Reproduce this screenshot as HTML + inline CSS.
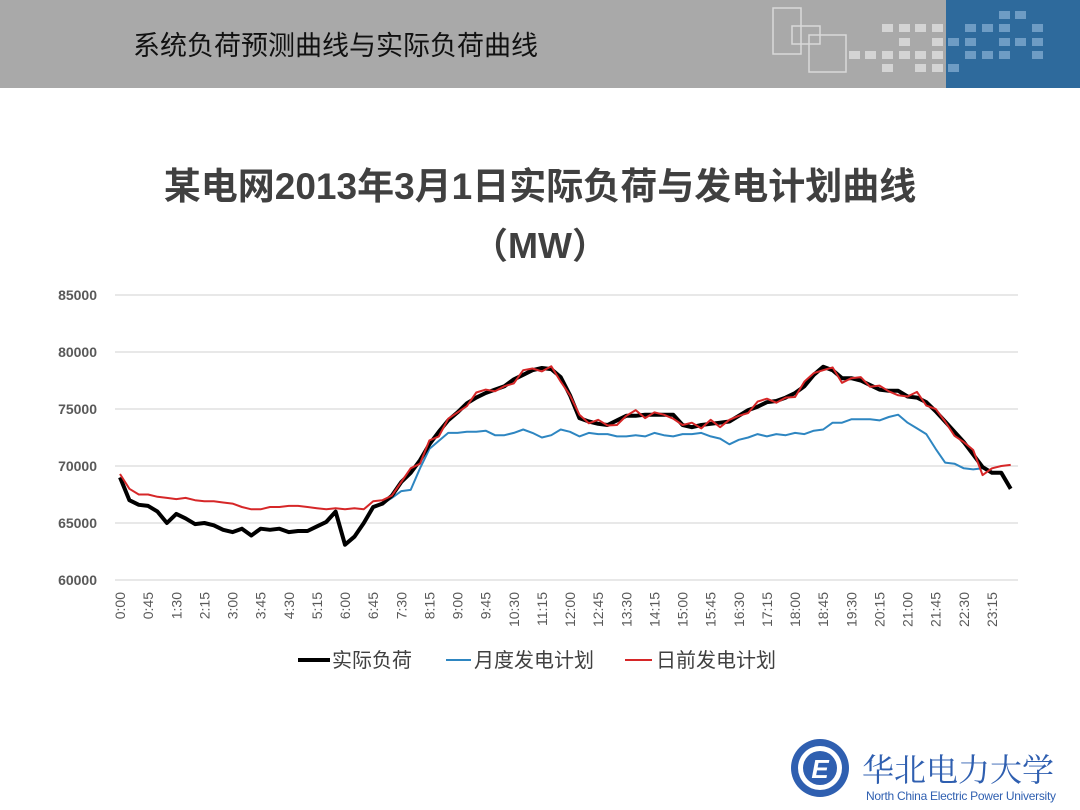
<!DOCTYPE html>
<html><head><meta charset="utf-8"><style>
body{margin:0;width:1080px;height:810px;background:#fff;overflow:hidden;font-family:"Liberation Sans","Noto Sans CJK SC",sans-serif;}
</style></head><body>
<svg id="s" width="1080" height="810" xmlns="http://www.w3.org/2000/svg" style="position:absolute;left:0;top:0">
<rect x="0" y="0" width="1080" height="88" fill="#a9a9a9"/>
<rect x="946" y="0" width="134" height="88" fill="#2e6a9c"/>
<g fill="none" stroke="#e6e6e6" stroke-width="1.5" opacity="0.8">
<rect x="773" y="8" width="28" height="46"/><rect x="792" y="26" width="28" height="18"/><rect x="809" y="35" width="37" height="37"/></g>
<g fill="#d4d4d4">
<rect x="882" y="24" width="11" height="8"/><rect x="899" y="24" width="11" height="8"/><rect x="915" y="24" width="11" height="8"/><rect x="932" y="24" width="11" height="8"/>
<rect x="899" y="38" width="11" height="8"/><rect x="932" y="38" width="11" height="8"/>
<rect x="849" y="51" width="11" height="8"/><rect x="865" y="51" width="11" height="8"/><rect x="882" y="51" width="11" height="8"/><rect x="899" y="51" width="11" height="8"/><rect x="915" y="51" width="11" height="8"/><rect x="932" y="51" width="11" height="8"/>
<rect x="882" y="64" width="11" height="8"/><rect x="915" y="64" width="11" height="8"/><rect x="932" y="64" width="11" height="8"/></g>
<g fill="#6e9cc4">
<rect x="999" y="11" width="11" height="8"/><rect x="1015" y="11" width="11" height="8"/>
<rect x="965" y="24" width="11" height="8"/><rect x="982" y="24" width="11" height="8"/><rect x="999" y="24" width="11" height="8"/><rect x="1032" y="24" width="11" height="8"/>
<rect x="948" y="38" width="11" height="8"/><rect x="965" y="38" width="11" height="8"/><rect x="999" y="38" width="11" height="8"/><rect x="1015" y="38" width="11" height="8"/><rect x="1032" y="38" width="11" height="8"/>
<rect x="965" y="51" width="11" height="8"/><rect x="982" y="51" width="11" height="8"/><rect x="999" y="51" width="11" height="8"/><rect x="1032" y="51" width="11" height="8"/>
<rect x="948" y="64" width="11" height="8"/></g>
<text x="133" y="55" font-size="27" fill="#111">系统负荷预测曲线与实际负荷曲线</text>
<text x="540" y="199" font-size="37" font-weight="bold" fill="#404040" text-anchor="middle">某电网2013年3月1日实际负荷与发电计划曲线</text>
<text x="540" y="258" font-size="36" font-weight="bold" fill="#404040" text-anchor="middle">（MW）</text>
<g id="grid" stroke="#d9d9d9" stroke-width="1.3"></g>
<g id="yl" font-size="14" font-weight="bold" fill="#595959" text-anchor="end"></g>
<g id="xl" font-size="14" fill="#595959"></g>
<g id="lines" fill="none" stroke-linejoin="round"></g>
<g font-size="20" fill="#404040">
<line x1="298" y1="660" x2="330" y2="660" stroke="#000" stroke-width="4"/><text x="332" y="667">实际负荷</text>
<line x1="446" y1="660" x2="471" y2="660" stroke="#2e86c1" stroke-width="2"/><text x="474" y="667">月度发电计划</text>
<line x1="625" y1="660" x2="652" y2="660" stroke="#d62728" stroke-width="2"/><text x="656" y="667">日前发电计划</text>
</g>
<circle cx="820" cy="768" r="29" fill="#2f5fb0"/><circle cx="820" cy="768" r="22" fill="#fff"/><circle cx="820" cy="768" r="17" fill="#2f5fb0"/>
<text x="820" y="778" font-size="26" font-weight="bold" fill="#fff" text-anchor="middle" font-style="italic">E</text>
<text x="862" y="781" font-size="32" fill="#2f5fb0" font-family="'Noto Serif CJK SC',serif">华北电力大学</text>
<text x="866" y="800" font-size="12" fill="#2f5fb0" textLength="190">North China Electric Power University</text>
</svg>
<script>
const NS="http://www.w3.org/2000/svg";
function el(p,t,a,txt){const e=document.createElementNS(NS,t);for(const k in a)e.setAttribute(k,a[k]);if(txt)e.textContent=txt;document.getElementById(p).appendChild(e);}
const X=i=>120+i*9.376, Y=v=>580-(v-60000)*0.0114;
for(let v=60000;v<=85000;v+=5000){el('grid','line',{x1:115,x2:1018,y1:Y(v),y2:Y(v)});el('yl','text',{x:97,y:Y(v)+5},String(v));}
for(let i=0;i<96;i+=3){const m=i*15,lab=Math.floor(m/60)+":"+String(m%60).padStart(2,'0');const x=X(i)+5;el('xl','text',{x:x,y:592,transform:`rotate(-90 ${x} 592)`,'text-anchor':'end'},lab);}
const black=[69000,67000,66600,66500,66000,65000,65800,65400,64900,65000,64800,64400,64200,64500,63900,64500,64400,64500,64200,64300,64300,64700,65100,66000,63100,63800,65000,66400,66700,67400,68600,69400,70500,71900,73000,74000,74700,75500,76000,76400,76700,77000,77600,78000,78400,78600,78500,77800,76200,74200,73900,73700,73600,74000,74400,74400,74500,74500,74500,74500,73600,73400,73600,73700,73800,73900,74400,74900,75200,75600,75700,76000,76400,77000,78000,78700,78400,77700,77700,77500,77100,76700,76600,76600,76100,76000,75600,74800,73900,73000,72100,71000,69900,69400,69400,68000];
const redStart=[69300,68000,67500,67500,67300,67200,67100,67200,67000,66900,66900,66800,66700,66400,66200,66200,66400,66400,66500,66500,66400,66300,66200,66300,66200,66300,66200,66900,67000,67400];
const jit=[0,400,-300,350,-400,150,0,-250,450,300,-150,0,-350,400,150,-300,250,-400,0,300,-150,350,-50,-400,0,500,-300,200,0,-350];
const red=black.map((v,i)=>{if(i<30)return redStart[i];if(i>=92)return [69200,69800,70000,70100][i-92];return v+jit[i%30];});
const blue=[66300,66700,67200,67800,67900,69800,71500,72200,72900,72900,73000,73000,73100,72700,72700,72900,73200,72900,72500,72700,73200,73000,72600,72900,72800,72800,72600,72600,72700,72600,72900,72700,72600,72800,72800,72900,72600,72400,71900,72300,72500,72800,72600,72800,72700,72900,72800,73100,73200,73800,73800,74100,74100,74100,74000,74300,74500,73800,73300,72800,71500,70300,70200,69800,69700,69800];
const pts=(arr,o)=>arr.map((v,i)=>X(i+o).toFixed(1)+","+Y(v).toFixed(1)).join(" ");
el('lines','polyline',{points:pts(blue,27),stroke:'#2e86c1','stroke-width':2});
el('lines','polyline',{points:pts(black,0),stroke:'#000','stroke-width':4});
el('lines','polyline',{points:pts(red,0),stroke:'#d62728','stroke-width':2});
</script>
</body></html>
